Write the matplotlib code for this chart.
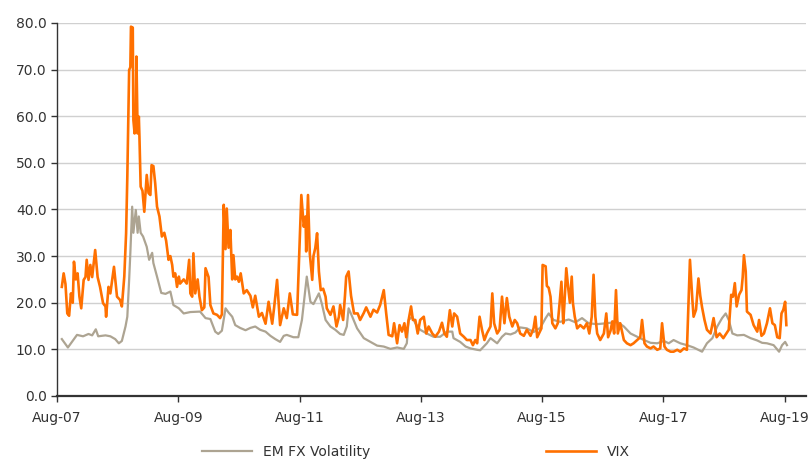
import numpy as np
import pandas as pd
import matplotlib
matplotlib.use("Agg")
import matplotlib.pyplot as plt
import matplotlib.dates as mdates

# EM FX volatility (decimal year, level)
emfx_t = [2007.66, 2007.76, 2007.91, 2008.01, 2008.10, 2008.16, 2008.22, 2008.26, 2008.38, 2008.46,
          2008.54, 2008.60, 2008.65, 2008.71, 2008.74, 2008.77, 2008.79, 2008.82, 2008.84, 2008.88,
          2008.91, 2008.93, 2008.96, 2009.00, 2009.06, 2009.10, 2009.15, 2009.17, 2009.23, 2009.30,
          2009.37, 2009.45, 2009.50, 2009.59, 2009.67, 2009.78, 2009.94, 2010.03, 2010.11, 2010.19,
          2010.24, 2010.30, 2010.36, 2010.41, 2010.47, 2010.52, 2010.60, 2010.69, 2010.77, 2010.85,
          2010.93, 2011.02, 2011.10, 2011.18, 2011.26, 2011.32, 2011.37, 2011.48, 2011.56, 2011.62,
          2011.70, 2011.76, 2011.81, 2011.90, 2011.95, 2012.01, 2012.09, 2012.17, 2012.25, 2012.31,
          2012.36, 2012.39, 2012.45, 2012.53, 2012.64, 2012.75, 2012.86, 2012.97, 2013.08, 2013.19,
          2013.30, 2013.35, 2013.38, 2013.44, 2013.49, 2013.57, 2013.68, 2013.79, 2013.90, 2014.01,
          2014.10, 2014.12, 2014.23, 2014.32, 2014.40, 2014.51, 2014.56, 2014.62, 2014.67, 2014.73,
          2014.84, 2014.92, 2014.98, 2015.06, 2015.14, 2015.22, 2015.33, 2015.44, 2015.55, 2015.64,
          2015.69, 2015.77, 2015.88, 2016.02, 2016.13, 2016.24, 2016.35, 2016.48, 2016.65, 2016.82,
          2016.93, 2017.04, 2017.15, 2017.26, 2017.37, 2017.48, 2017.59, 2017.67, 2017.75, 2017.86,
          2017.97, 2018.08, 2018.22, 2018.30, 2018.39, 2018.47, 2018.55, 2018.61, 2018.66, 2018.72,
          2018.80, 2018.91, 2019.02, 2019.13, 2019.21, 2019.29, 2019.40, 2019.49, 2019.54, 2019.59,
          2019.62]
emfx_v = [12.2, 10.4, 13.1, 12.8, 13.3, 13.0, 14.3, 12.8, 13.0, 12.8,
          12.2, 11.3, 11.8, 14.9, 17.0, 24.9, 30.7, 40.6, 35.0, 39.9,
          35.0, 38.5, 35.0, 34.2, 32.0, 29.2, 30.7, 28.5, 25.6, 22.1,
          21.9, 22.4, 19.5, 18.8, 17.7, 18.0, 18.1, 16.7, 16.5, 13.8,
          13.3, 14.0, 18.8, 17.9, 17.0, 15.2, 14.6, 14.1, 14.6, 14.9,
          14.2, 13.8, 12.9, 12.2, 11.6, 12.9, 13.1, 12.6, 12.6, 16.3,
          25.6, 20.2, 19.7, 22.0, 19.7, 16.3, 14.9, 14.2, 13.3, 13.1,
          14.9, 18.8, 17.0, 14.5, 12.4, 11.6, 10.8, 10.6, 10.1, 10.4,
          10.1, 11.3, 16.3, 17.0, 15.6, 14.2, 13.4, 12.7, 12.7, 13.8,
          13.8, 12.4, 11.6, 10.6, 10.2, 9.9, 9.8, 10.6, 11.3, 12.4,
          11.3, 12.7, 13.4, 13.2, 13.6, 14.7, 14.5, 13.7, 14.6, 16.7,
          17.7, 16.3, 15.9, 16.4, 15.8, 16.7, 15.6, 15.4, 15.6, 15.9,
          14.9, 13.4, 12.7, 12.0, 11.4, 11.3, 11.8, 11.3, 12.0, 11.3,
          10.9, 10.4, 9.5, 11.3, 12.4, 14.9, 16.7, 17.7, 16.3, 13.4,
          13.0, 13.1, 12.4, 11.9, 11.4, 11.3, 10.9, 9.5, 10.9, 11.6,
          10.9]

# VIX (decimal year, level)
vix_t = [2007.66, 2007.69, 2007.72, 2007.75, 2007.78, 2007.81, 2007.84, 2007.86, 2007.89, 2007.92,
         2007.95, 2007.98, 2008.02, 2008.05, 2008.07, 2008.10, 2008.13, 2008.16, 2008.21, 2008.25,
         2008.29, 2008.34, 2008.38, 2008.39, 2008.43, 2008.46, 2008.52, 2008.57, 2008.62, 2008.65,
         2008.69, 2008.72, 2008.74, 2008.77, 2008.79, 2008.80, 2008.83, 2008.84, 2008.86, 2008.88,
         2008.89, 2008.91, 2008.93, 2008.94, 2008.96, 2008.99, 2009.02, 2009.05, 2009.06, 2009.09,
         2009.12, 2009.14, 2009.17, 2009.20, 2009.23, 2009.27, 2009.31, 2009.35, 2009.38, 2009.42,
         2009.45, 2009.48, 2009.50, 2009.53, 2009.56, 2009.59, 2009.61, 2009.67, 2009.72, 2009.76,
         2009.78, 2009.81, 2009.83, 2009.86, 2009.90, 2009.93, 2009.97, 2010.01, 2010.03, 2010.08,
         2010.11, 2010.16, 2010.22, 2010.27, 2010.30, 2010.33, 2010.36, 2010.38, 2010.41, 2010.44,
         2010.47, 2010.49, 2010.52, 2010.55, 2010.58, 2010.61, 2010.66, 2010.71, 2010.77, 2010.81,
         2010.85, 2010.91, 2010.96, 2011.02, 2011.07, 2011.13, 2011.16, 2011.21, 2011.26, 2011.32,
         2011.37, 2011.42, 2011.47, 2011.54, 2011.58, 2011.61, 2011.65, 2011.68, 2011.69, 2011.72,
         2011.75, 2011.79, 2011.81, 2011.84, 2011.87, 2011.90, 2011.93, 2011.97, 2012.01, 2012.03,
         2012.09, 2012.14, 2012.19, 2012.23, 2012.25, 2012.30, 2012.33, 2012.35, 2012.39, 2012.43,
         2012.48, 2012.54, 2012.58, 2012.64, 2012.68, 2012.75, 2012.80, 2012.86, 2012.91, 2012.97,
         2013.01, 2013.05, 2013.11, 2013.14, 2013.19, 2013.23, 2013.27, 2013.31, 2013.34, 2013.38,
         2013.42, 2013.45, 2013.49, 2013.53, 2013.57, 2013.63, 2013.67, 2013.71, 2013.77, 2013.82,
         2013.88, 2013.93, 2013.97, 2014.01, 2014.06, 2014.10, 2014.13, 2014.18, 2014.23, 2014.29,
         2014.34, 2014.40, 2014.44, 2014.48, 2014.51, 2014.55, 2014.59, 2014.63, 2014.67, 2014.73,
         2014.76, 2014.79, 2014.84, 2014.88, 2014.92, 2014.96, 2015.00, 2015.04, 2015.09, 2015.13,
         2015.17, 2015.22, 2015.28, 2015.33, 2015.39, 2015.44, 2015.47, 2015.50, 2015.53, 2015.57,
         2015.59, 2015.64, 2015.66, 2015.69, 2015.72, 2015.75, 2015.80, 2015.84, 2015.87, 2015.90,
         2015.93, 2015.95, 2015.98, 2016.01, 2016.04, 2016.07, 2016.09, 2016.12, 2016.16, 2016.21,
         2016.27, 2016.32, 2016.36, 2016.40, 2016.43, 2016.46, 2016.49, 2016.54, 2016.60, 2016.64,
         2016.67, 2016.71, 2016.74, 2016.77, 2016.80, 2016.83, 2016.87, 2016.93, 2016.98, 2017.04,
         2017.09, 2017.15, 2017.20, 2017.23, 2017.27, 2017.31, 2017.37, 2017.42, 2017.48, 2017.53,
         2017.56, 2017.60, 2017.64, 2017.70, 2017.75, 2017.81, 2017.86, 2017.92, 2017.97, 2018.02,
         2018.06, 2018.08, 2018.12, 2018.16, 2018.19, 2018.22, 2018.26, 2018.30, 2018.36, 2018.41,
         2018.46, 2018.51, 2018.57, 2018.62, 2018.66, 2018.70, 2018.73, 2018.76, 2018.79, 2018.83,
         2018.87, 2018.89, 2018.91, 2018.94, 2018.96, 2019.02, 2019.07, 2019.13, 2019.16, 2019.20,
         2019.24, 2019.29, 2019.34, 2019.38, 2019.42, 2019.46, 2019.50, 2019.53, 2019.56, 2019.59,
         2019.61]
vix_v = [23.4, 26.3, 24.0, 17.7, 17.2, 22.0, 20.0, 28.8, 25.0, 26.3,
         21.3, 18.8, 24.9, 25.5, 29.2, 24.9, 28.1, 25.5, 31.3, 25.5,
         23.4, 19.9, 19.2, 17.0, 23.4, 22.0, 27.7, 21.3, 20.6, 19.2,
         25.6, 34.9, 47.0, 69.9, 70.5, 79.2, 79.0, 59.2, 56.3, 59.9,
         72.8, 56.3, 59.9, 55.6, 44.9, 44.0, 39.5, 45.6, 47.4, 43.5,
         43.1, 49.5, 49.3, 45.6, 40.6, 38.5, 34.2, 35.0, 33.3, 29.2,
         30.0, 28.1, 25.6, 26.3, 23.4, 25.6, 24.1, 25.0, 24.1, 29.2,
         22.0, 21.3, 30.6, 22.0, 25.0, 21.3, 18.4, 19.0, 27.4, 25.5,
         19.5, 17.7, 17.4, 16.7, 17.5, 41.0, 31.5, 40.2, 31.8, 35.6,
         25.0, 30.2, 25.0, 25.6, 24.5, 26.3, 22.0, 22.7, 21.5, 19.0,
         21.5, 17.0, 17.8, 15.5, 20.2, 15.5, 18.8, 24.9, 15.2, 18.8,
         16.7, 22.0, 17.5, 17.4, 32.0, 43.1, 36.3, 38.5, 31.0, 43.1,
         30.5, 24.9, 30.0, 31.7, 34.9, 26.7, 22.7, 23.0, 21.3, 18.8,
         17.4, 19.2, 14.9, 17.0, 19.5, 16.3, 21.5, 25.6, 26.7, 21.5,
         17.7, 17.7, 16.3, 17.8, 19.0, 17.0, 18.5, 17.9, 19.5, 22.7,
         17.7, 13.1, 12.8, 15.6, 11.3, 15.2, 13.8, 15.6, 12.6, 16.3,
         19.2, 16.3, 16.3, 13.4, 16.3, 17.0, 13.4, 14.9, 13.4, 12.7,
         13.8, 15.7, 13.4, 12.7, 18.4, 14.9, 17.7, 17.0, 13.4, 12.7,
         12.0, 12.0, 10.9, 12.0, 11.3, 17.0, 14.2, 12.0, 13.4, 14.9,
         22.0, 15.6, 13.4, 14.2, 21.3, 15.6, 21.0, 17.0, 14.9, 16.3,
         15.6, 13.4, 12.9, 14.2, 12.9, 14.5, 17.0, 12.6, 13.4, 14.5,
         28.1, 27.8, 23.6, 23.2, 21.3, 15.6, 14.5, 15.6, 19.9, 24.5,
         15.6, 19.9, 27.4, 23.4, 20.0, 25.6, 19.9, 17.0, 14.5, 15.2,
         14.5, 15.6, 13.4, 17.0, 26.0, 17.0, 13.4, 12.0, 13.4, 17.7,
         12.6, 14.0, 16.0, 13.4, 22.7, 13.4, 15.6, 12.0, 11.3, 10.9,
         11.3, 12.0, 12.6, 16.3, 11.3, 10.6, 10.2, 10.6, 9.9, 10.2,
         15.6, 10.6, 9.9, 9.5, 9.5, 9.9, 9.5, 10.2, 9.9, 29.2,
         20.6, 17.0, 18.5, 25.2, 21.5, 19.0, 16.3, 14.2, 13.4, 16.7,
         12.6, 13.4, 12.4, 13.4, 14.2, 21.7, 21.3, 24.2, 19.2, 21.7,
         22.7, 25.5, 30.2, 26.7, 18.1, 17.4, 15.2, 13.8, 16.3, 12.9,
         13.4, 15.6, 18.8, 15.6, 15.2, 12.6, 12.4, 17.7, 18.5, 20.2,
         15.2]

yticks = [0, 10, 20, 30, 40, 50, 60, 70, 80]
xtick_years = [2007, 2009, 2011, 2013, 2015, 2017, 2019]


def to_dates(years):
    years = np.asarray(years, dtype=float)
    return pd.Timestamp("2007-01-01") + pd.to_timedelta((years - 2007) * 365.25, unit="D")


fig = plt.figure(figsize=(8.11, 4.59), dpi=100)
ax = fig.add_axes([0.0703, 0.1373, 0.9235, 0.8127])

ax.plot(to_dates(emfx_t), emfx_v, color="#ada492", lw=1.6, label="EM FX Volatility", zorder=3)
ax.plot(to_dates(vix_t), vix_v, color="#ff7000", lw=1.9, label="VIX", zorder=4)

ax.set_ylim(0, 80)
ax.set_yticks(yticks)
ax.yaxis.set_major_formatter(matplotlib.ticker.FormatStrFormatter("%.1f"))
ax.set_xlim(pd.Timestamp("2007-08-01"), pd.Timestamp("2019-12-08"))
ax.set_xticks([pd.Timestamp(f"{y}-08-01") for y in xtick_years])
ax.xaxis.set_major_formatter(mdates.DateFormatter("%b-%y"))

ax.grid(axis="y", color="#d0d0d0", lw=1.0, zorder=0)
ax.set_axisbelow(True)
for side in ("top", "right"):
    ax.spines[side].set_visible(False)
ax.spines["left"].set_color("#333333")
ax.spines["left"].set_linewidth(1.0)
ax.spines["bottom"].set_color("#333333")
ax.spines["bottom"].set_linewidth(1.6)
ax.spines["bottom"].set_zorder(5)
ax.tick_params(axis="both", colors="#333333", labelsize=10, length=4, width=1.0)
ax.tick_params(axis="x", pad=7)

fig.legend(loc="center", bbox_to_anchor=(0.513, 0.015), ncol=2, frameon=False,
           handlelength=3.6, columnspacing=12.6, fontsize=10, labelcolor="#333333")

fig.savefig("out.png", dpi=100)
